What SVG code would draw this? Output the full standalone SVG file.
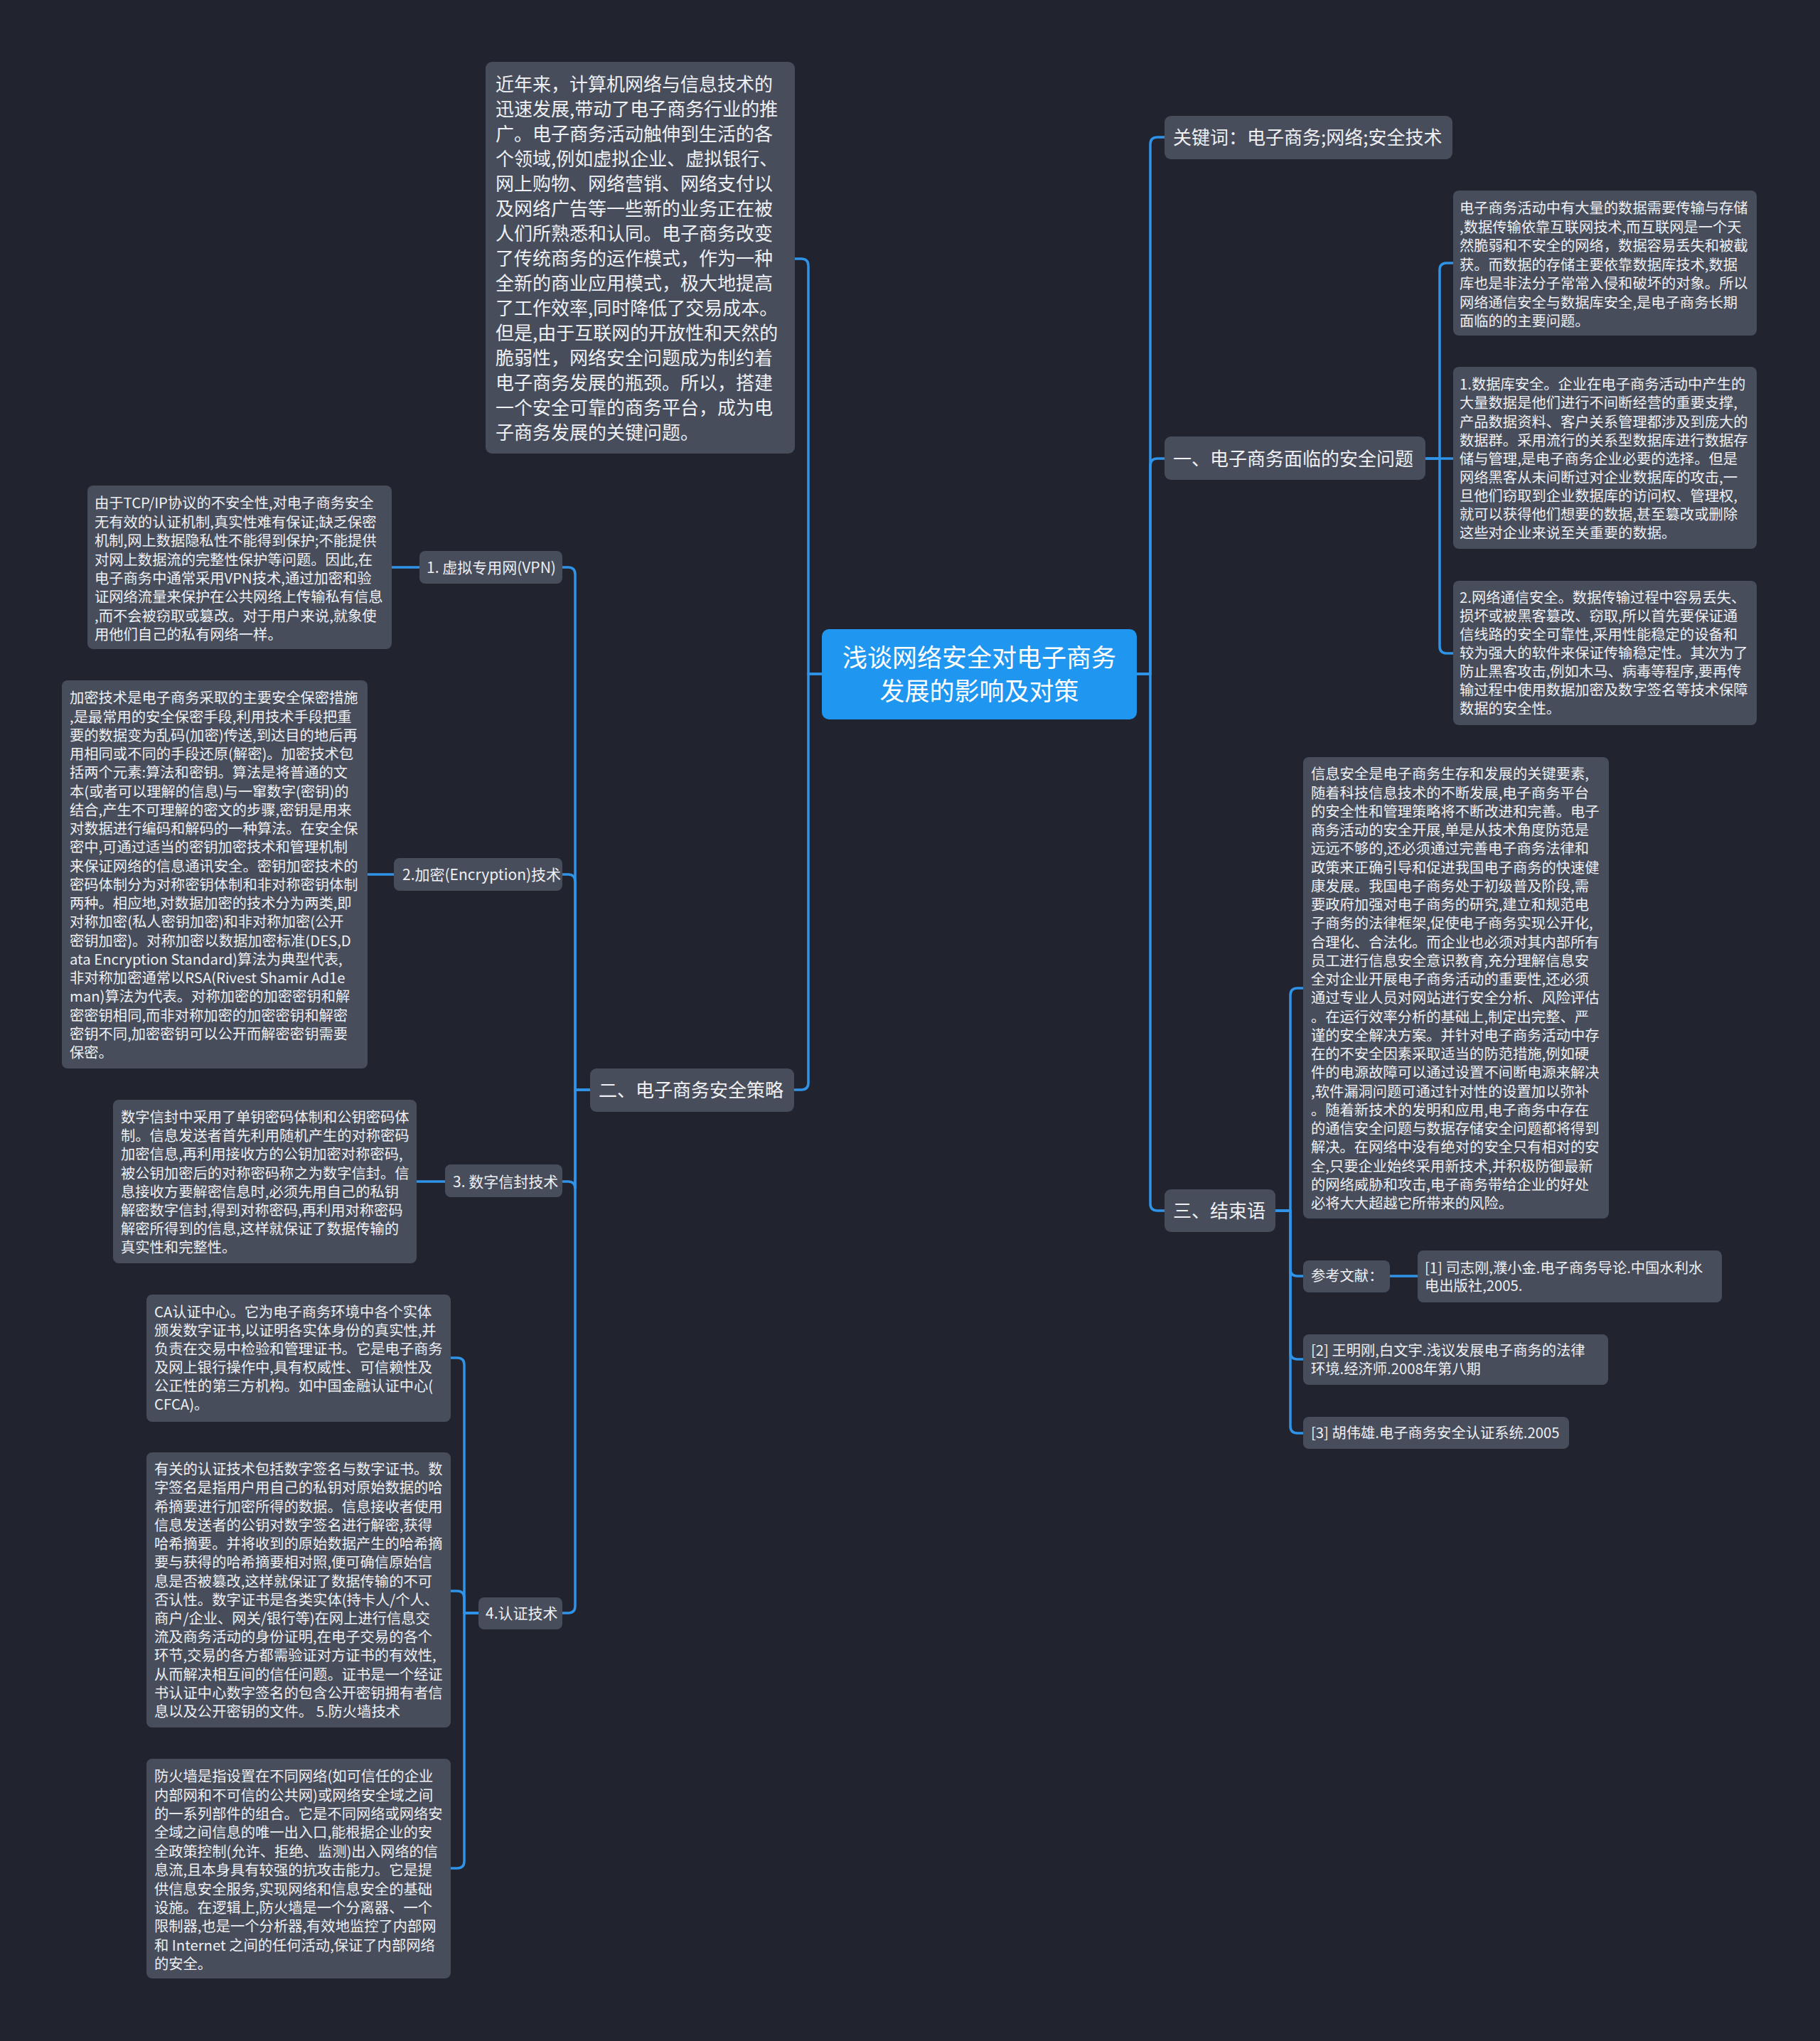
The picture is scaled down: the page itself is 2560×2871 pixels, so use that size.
<svg xmlns="http://www.w3.org/2000/svg" width="2560" height="2871" viewBox="0 0 2560 2871">
<defs>
<style>
.bg{fill:#21242f}
.box{fill:#484d5c}
.root{fill:#1f96f0}
text{font-family:"Noto Sans CJK SC","Noto Sans CJK TC",sans-serif;fill:#eef0f3}
.t26{font-size:26px}
.t21{font-size:21px}
.t20{font-size:20.3px}
.troot{font-size:35px;fill:#ffffff;text-anchor:middle}
.c{fill:none;stroke:#2f93e8;stroke-width:3.5;stroke-linecap:round;stroke-linejoin:round}
</style>
</defs>
<rect class="bg" x="0" y="0" width="2560" height="2871"/>

<g id="connectors">
<path class="c" d="M1156 948 H1137 V374 Q1137 364 1127 364 H1118"/>
<path class="c" d="M1156 948 H1137 V1523 Q1137 1533 1127 1533 H1117"/>
<path class="c" d="M1599 948 H1618 V203 Q1618 193 1628 193 H1638"/>
<path class="c" d="M1599 948 H1618 V655 Q1618 645 1628 645 H1638"/>
<path class="c" d="M1599 948 H1618 V1693 Q1618 1703 1628 1703 H1638"/>
<path class="c" d="M2005 645 H2025 V380 Q2025 370 2035 370 H2044"/>
<path class="c" d="M2005 645 H2044"/>
<path class="c" d="M2005 645 H2025 V909 Q2025 919 2035 919 H2044"/>
<path class="c" d="M1794 1703 H1815 V1400 Q1815 1390 1825 1390 H1833"/>
<path class="c" d="M1794 1703 H1815 V1785 Q1815 1795 1825 1795 H1833"/>
<path class="c" d="M1794 1703 H1815 V1902 Q1815 1912 1825 1912 H1833"/>
<path class="c" d="M1794 1703 H1815 V2006 Q1815 2016 1825 2016 H1833"/>
<path class="c" d="M1955 1795 H1994"/>
<path class="c" d="M830 1533 H809 V808 Q809 798 799 798 H791"/>
<path class="c" d="M830 1533 H809 V1240 Q809 1230 799 1230 H791"/>
<path class="c" d="M830 1533 H809 V1672 Q809 1662 799 1662 H791"/>
<path class="c" d="M830 1533 H809 V2259 Q809 2269 799 2269 H791"/>
<path class="c" d="M590 798 H551"/>
<path class="c" d="M554 1230 H517"/>
<path class="c" d="M626 1662 H586"/>
<path class="c" d="M673 2269 H653 V1920 Q653 1910 643 1910 H634"/>
<path class="c" d="M673 2269 H653 V2248 Q653 2238 643 2238 H634"/>
<path class="c" d="M673 2269 H653 V2618 Q653 2628 643 2628 H634"/>
</g>

<g id="root">
<rect class="root" x="1156" y="885" width="443" height="127" rx="10"/>
<text class="troot" x="1377.5" y="938">浅谈网络安全对电子商务</text>
<text class="troot" x="1377.5" y="985">发展的影响及对策</text>
</g>

<g id="intro">
<rect class="box" x="683" y="87" width="435" height="551" rx="9"/>
<text class="t26">
<tspan x="697" y="128">近年来，计算机网络与信息技术的</tspan>
<tspan x="697" y="163">迅速发展,带动了电子商务行业的推</tspan>
<tspan x="697" y="198">广。电子商务活动触伸到生活的各</tspan>
<tspan x="697" y="233">个领域,例如虚拟企业、虚拟银行、</tspan>
<tspan x="697" y="268">网上购物、网络营销、网络支付以</tspan>
<tspan x="697" y="303">及网络广告等一些新的业务正在被</tspan>
<tspan x="697" y="338">人们所熟悉和认同。电子商务改变</tspan>
<tspan x="697" y="373">了传统商务的运作模式，作为一种</tspan>
<tspan x="697" y="408">全新的商业应用模式，极大地提高</tspan>
<tspan x="697" y="443">了工作效率,同时降低了交易成本。</tspan>
<tspan x="697" y="478">但是,由于互联网的开放性和天然的</tspan>
<tspan x="697" y="513">脆弱性，网络安全问题成为制约着</tspan>
<tspan x="697" y="548">电子商务发展的瓶颈。所以，搭建</tspan>
<tspan x="697" y="583">一个安全可靠的商务平台，成为电</tspan>
<tspan x="697" y="618">子商务发展的关键问题。</tspan>
</text>
</g>

<g id="strategy">
<rect class="box" x="830" y="1503" width="287" height="61" rx="9"/>
<text class="t26" x="842" y="1543">二、电子商务安全策略</text>
</g>

<g id="vpn">
<rect class="box" x="590" y="775" width="201" height="46" rx="8"/>
<text class="t21" x="600" y="806">1. 虚拟专用网(VPN)</text>
</g>
<g id="vpn-text">
<rect class="box" x="123" y="683" width="428" height="230" rx="8"/>
<text class="t20">
<tspan x="133" y="715">由于TCP/IP协议的不安全性,对电子商务安全</tspan>
<tspan x="133" y="742">无有效的认证机制,真实性难有保证;缺乏保密</tspan>
<tspan x="133" y="768">机制,网上数据隐私性不能得到保护;不能提供</tspan>
<tspan x="133" y="795">对网上数据流的完整性保护等问题。因此,在</tspan>
<tspan x="133" y="821">电子商务中通常采用VPN技术,通过加密和验</tspan>
<tspan x="133" y="847">证网络流量来保护在公共网络上传输私有信息</tspan>
<tspan x="133" y="874">,而不会被窃取或篡改。对于用户来说,就象使</tspan>
<tspan x="133" y="900">用他们自己的私有网络一样。</tspan>
</text>
</g>

<g id="enc">
<rect class="box" x="554" y="1207" width="237" height="46" rx="8"/>
<text class="t21" x="566" y="1238">2.加密(Encryption)技术</text>
</g>
<g id="enc-text">
<rect class="box" x="87" y="957" width="430" height="546" rx="8"/>
<text class="t20">
<tspan x="98" y="989">加密技术是电子商务采取的主要安全保密措施</tspan>
<tspan x="98" y="1016">,是最常用的安全保密手段,利用技术手段把重</tspan>
<tspan x="98" y="1042">要的数据变为乱码(加密)传送,到达目的地后再</tspan>
<tspan x="98" y="1068">用相同或不同的手段还原(解密)。加密技术包</tspan>
<tspan x="98" y="1094">括两个元素:算法和密钥。算法是将普通的文</tspan>
<tspan x="98" y="1121">本(或者可以理解的信息)与一窜数字(密钥)的</tspan>
<tspan x="98" y="1147">结合,产生不可理解的密文的步骤,密钥是用来</tspan>
<tspan x="98" y="1173">对数据进行编码和解码的一种算法。在安全保</tspan>
<tspan x="98" y="1199">密中,可通过适当的密钥加密技术和管理机制</tspan>
<tspan x="98" y="1226">来保证网络的信息通讯安全。密钥加密技术的</tspan>
<tspan x="98" y="1252">密码体制分为对称密钥体制和非对称密钥体制</tspan>
<tspan x="98" y="1278">两种。相应地,对数据加密的技术分为两类,即</tspan>
<tspan x="98" y="1304">对称加密(私人密钥加密)和非对称加密(公开</tspan>
<tspan x="98" y="1331">密钥加密)。对称加密以数据加密标准(DES,D</tspan>
<tspan x="98" y="1357">ata Encryption Standard)算法为典型代表,</tspan>
<tspan x="98" y="1383">非对称加密通常以RSA(Rivest Shamir Ad1e</tspan>
<tspan x="98" y="1409">man)算法为代表。对称加密的加密密钥和解</tspan>
<tspan x="98" y="1436">密密钥相同,而非对称加密的加密密钥和解密</tspan>
<tspan x="98" y="1462">密钥不同,加密密钥可以公开而解密密钥需要</tspan>
<tspan x="98" y="1488">保密。</tspan>
</text>
</g>

<g id="env">
<rect class="box" x="626" y="1638" width="165" height="46" rx="8"/>
<text class="t21" x="637" y="1670">3. 数字信封技术</text>
</g>
<g id="env-text">
<rect class="box" x="159" y="1547" width="427" height="230" rx="8"/>
<text class="t20">
<tspan x="170" y="1579">数字信封中采用了单钥密码体制和公钥密码体</tspan>
<tspan x="170" y="1605">制。信息发送者首先利用随机产生的对称密码</tspan>
<tspan x="170" y="1631">加密信息,再利用接收方的公钥加密对称密码,</tspan>
<tspan x="170" y="1658">被公钥加密后的对称密码称之为数字信封。信</tspan>
<tspan x="170" y="1684">息接收方要解密信息时,必须先用自己的私钥</tspan>
<tspan x="170" y="1710">解密数字信封,得到对称密码,再利用对称密码</tspan>
<tspan x="170" y="1736">解密所得到的信息,这样就保证了数据传输的</tspan>
<tspan x="170" y="1762">真实性和完整性。</tspan>
</text>
</g>

<g id="auth">
<rect class="box" x="673" y="2247" width="118" height="45" rx="8"/>
<text class="t21" x="683" y="2277">4.认证技术</text>
</g>
<g id="ca-text">
<rect class="box" x="206" y="1821" width="428" height="179" rx="8"/>
<text class="t20">
<tspan x="217" y="1853">CA认证中心。它为电子商务环境中各个实体</tspan>
<tspan x="217" y="1879">颁发数字证书,以证明各实体身份的真实性,并</tspan>
<tspan x="217" y="1905">负责在交易中检验和管理证书。它是电子商务</tspan>
<tspan x="217" y="1931">及网上银行操作中,具有权威性、可信赖性及</tspan>
<tspan x="217" y="1957">公正性的第三方机构。如中国金融认证中心(</tspan>
<tspan x="217" y="1983">CFCA)。</tspan>
</text>
</g>
<g id="auth-text">
<rect class="box" x="206" y="2043" width="428" height="387" rx="8"/>
<text class="t20">
<tspan x="217" y="2074">有关的认证技术包括数字签名与数字证书。数</tspan>
<tspan x="217" y="2100">字签名是指用户用自己的私钥对原始数据的哈</tspan>
<tspan x="217" y="2127">希摘要进行加密所得的数据。信息接收者使用</tspan>
<tspan x="217" y="2153">信息发送者的公钥对数字签名进行解密,获得</tspan>
<tspan x="217" y="2179">哈希摘要。并将收到的原始数据产生的哈希摘</tspan>
<tspan x="217" y="2205">要与获得的哈希摘要相对照,便可确信原始信</tspan>
<tspan x="217" y="2232">息是否被篡改,这样就保证了数据传输的不可</tspan>
<tspan x="217" y="2258">否认性。数字证书是各类实体(持卡人/个人、</tspan>
<tspan x="217" y="2284">商户/企业、网关/银行等)在网上进行信息交</tspan>
<tspan x="217" y="2310">流及商务活动的身份证明,在电子交易的各个</tspan>
<tspan x="217" y="2336">环节,交易的各方都需验证对方证书的有效性,</tspan>
<tspan x="217" y="2363">从而解决相互间的信任问题。证书是一个经证</tspan>
<tspan x="217" y="2389">书认证中心数字签名的包含公开密钥拥有者信</tspan>
<tspan x="217" y="2415">息以及公开密钥的文件。 5.防火墙技术</tspan>
</text>
</g>
<g id="fw-text">
<rect class="box" x="206" y="2474" width="428" height="309" rx="8"/>
<text class="t20">
<tspan x="217" y="2506">防火墙是指设置在不同网络(如可信任的企业</tspan>
<tspan x="217" y="2533">内部网和不可信的公共网)或网络安全域之间</tspan>
<tspan x="217" y="2559">的一系列部件的组合。它是不同网络或网络安</tspan>
<tspan x="217" y="2585">全域之间信息的唯一出入口,能根据企业的安</tspan>
<tspan x="217" y="2612">全政策控制(允许、拒绝、监测)出入网络的信</tspan>
<tspan x="217" y="2638">息流,且本身具有较强的抗攻击能力。它是提</tspan>
<tspan x="217" y="2665">供信息安全服务,实现网络和信息安全的基础</tspan>
<tspan x="217" y="2691">设施。在逻辑上,防火墙是一个分离器、一个</tspan>
<tspan x="217" y="2717">限制器,也是一个分析器,有效地监控了内部网</tspan>
<tspan x="217" y="2744">和 Internet 之间的任何活动,保证了内部网络</tspan>
<tspan x="217" y="2770">的安全。</tspan>
</text>
</g>

<g id="keywords">
<rect class="box" x="1638" y="163" width="405" height="61" rx="9"/>
<text class="t26" x="1650" y="203">关键词：电子商务;网络;安全技术</text>
</g>

<g id="problems">
<rect class="box" x="1638" y="614" width="367" height="61" rx="9"/>
<text class="t26" x="1650" y="655">一、电子商务面临的安全问题</text>
</g>
<g id="problems-a">
<rect class="box" x="2044" y="268" width="427" height="204" rx="8"/>
<text class="t20">
<tspan x="2053" y="300">电子商务活动中有大量的数据需要传输与存储</tspan>
<tspan x="2053" y="327">,数据传输依靠互联网技术,而互联网是一个天</tspan>
<tspan x="2053" y="353">然脆弱和不安全的网络，数据容易丢失和被截</tspan>
<tspan x="2053" y="380">获。而数据的存储主要依靠数据库技术,数据</tspan>
<tspan x="2053" y="406">库也是非法分子常常入侵和破坏的对象。所以</tspan>
<tspan x="2053" y="433">网络通信安全与数据库安全,是电子商务长期</tspan>
<tspan x="2053" y="459">面临的的主要问题。</tspan>
</text>
</g>
<g id="problems-b">
<rect class="box" x="2044" y="516" width="427" height="256" rx="8"/>
<text class="t20">
<tspan x="2053" y="548">1.数据库安全。企业在电子商务活动中产生的</tspan>
<tspan x="2053" y="574">大量数据是他们进行不间断经营的重要支撑,</tspan>
<tspan x="2053" y="601">产品数据资料、客户关系管理都涉及到庞大的</tspan>
<tspan x="2053" y="627">数据群。采用流行的关系型数据库进行数据存</tspan>
<tspan x="2053" y="653">储与管理,是电子商务企业必要的选择。但是</tspan>
<tspan x="2053" y="679">网络黑客从未间断过对企业数据库的攻击,一</tspan>
<tspan x="2053" y="705">旦他们窃取到企业数据库的访问权、管理权,</tspan>
<tspan x="2053" y="731">就可以获得他们想要的数据,甚至篡改或删除</tspan>
<tspan x="2053" y="757">这些对企业来说至关重要的数据。</tspan>
</text>
</g>
<g id="problems-c">
<rect class="box" x="2044" y="817" width="427" height="203" rx="8"/>
<text class="t20">
<tspan x="2053" y="848">2.网络通信安全。数据传输过程中容易丢失、</tspan>
<tspan x="2053" y="874">损坏或被黑客篡改、窃取,所以首先要保证通</tspan>
<tspan x="2053" y="900">信线路的安全可靠性,采用性能稳定的设备和</tspan>
<tspan x="2053" y="926">较为强大的软件来保证传输稳定性。其次为了</tspan>
<tspan x="2053" y="952">防止黑客攻击,例如木马、病毒等程序,要再传</tspan>
<tspan x="2053" y="978">输过程中使用数据加密及数字签名等技术保障</tspan>
<tspan x="2053" y="1004">数据的安全性。</tspan>
</text>
</g>

<g id="conclusion">
<rect class="box" x="1638" y="1673" width="156" height="60" rx="9"/>
<text class="t26" x="1650" y="1713">三、结束语</text>
</g>
<g id="conclusion-text">
<rect class="box" x="1833" y="1065" width="430" height="649" rx="8"/>
<text class="t20">
<tspan x="1844" y="1096">信息安全是电子商务生存和发展的关键要素,</tspan>
<tspan x="1844" y="1123">随着科技信息技术的不断发展,电子商务平台</tspan>
<tspan x="1844" y="1149">的安全性和管理策略将不断改进和完善。电子</tspan>
<tspan x="1844" y="1175">商务活动的安全开展,单是从技术角度防范是</tspan>
<tspan x="1844" y="1201">远远不够的,还必须通过完善电子商务法律和</tspan>
<tspan x="1844" y="1228">政策来正确引导和促进我国电子商务的快速健</tspan>
<tspan x="1844" y="1254">康发展。我国电子商务处于初级普及阶段,需</tspan>
<tspan x="1844" y="1280">要政府加强对电子商务的研究,建立和规范电</tspan>
<tspan x="1844" y="1306">子商务的法律框架,促使电子商务实现公开化,</tspan>
<tspan x="1844" y="1333">合理化、合法化。而企业也必须对其内部所有</tspan>
<tspan x="1844" y="1359">员工进行信息安全意识教育,充分理解信息安</tspan>
<tspan x="1844" y="1385">全对企业开展电子商务活动的重要性,还必须</tspan>
<tspan x="1844" y="1411">通过专业人员对网站进行安全分析、风险评估</tspan>
<tspan x="1844" y="1438">。在运行效率分析的基础上,制定出完整、严</tspan>
<tspan x="1844" y="1464">谨的安全解决方案。并针对电子商务活动中存</tspan>
<tspan x="1844" y="1490">在的不安全因素采取适当的防范措施,例如硬</tspan>
<tspan x="1844" y="1516">件的电源故障可以通过设置不间断电源来解决</tspan>
<tspan x="1844" y="1543">,软件漏洞问题可通过针对性的设置加以弥补</tspan>
<tspan x="1844" y="1569">。随着新技术的发明和应用,电子商务中存在</tspan>
<tspan x="1844" y="1595">的通信安全问题与数据存储安全问题都将得到</tspan>
<tspan x="1844" y="1621">解决。在网络中没有绝对的安全只有相对的安</tspan>
<tspan x="1844" y="1648">全,只要企业始终采用新技术,并积极防御最新</tspan>
<tspan x="1844" y="1674">的网络威胁和攻击,电子商务带给企业的好处</tspan>
<tspan x="1844" y="1700">必将大大超越它所带来的风险。</tspan>
</text>
</g>
<g id="refs">
<rect class="box" x="1833" y="1773" width="122" height="45" rx="8"/>
<text class="t20" x="1844" y="1802">参考文献：</text>
</g>
<g id="ref1">
<rect class="box" x="1994" y="1759" width="428" height="73" rx="8"/>
<text class="t20">
<tspan x="2004" y="1791">[1] 司志刚,濮小金.电子商务导论.中国水利水</tspan>
<tspan x="2004" y="1816">电出版社,2005.</tspan>
</text>
</g>
<g id="ref2">
<rect class="box" x="1833" y="1877" width="429" height="71" rx="8"/>
<text class="t20">
<tspan x="1844" y="1907">[2] 王明刚,白文宇.浅议发展电子商务的法律</tspan>
<tspan x="1844" y="1933">环境.经济师.2008年第八期</tspan>
</text>
</g>
<g id="ref3">
<rect class="box" x="1833" y="1993" width="374" height="45" rx="8"/>
<text class="t20" x="1844" y="2023">[3] 胡伟雄.电子商务安全认证系统.2005</text>
</g>
</svg>
